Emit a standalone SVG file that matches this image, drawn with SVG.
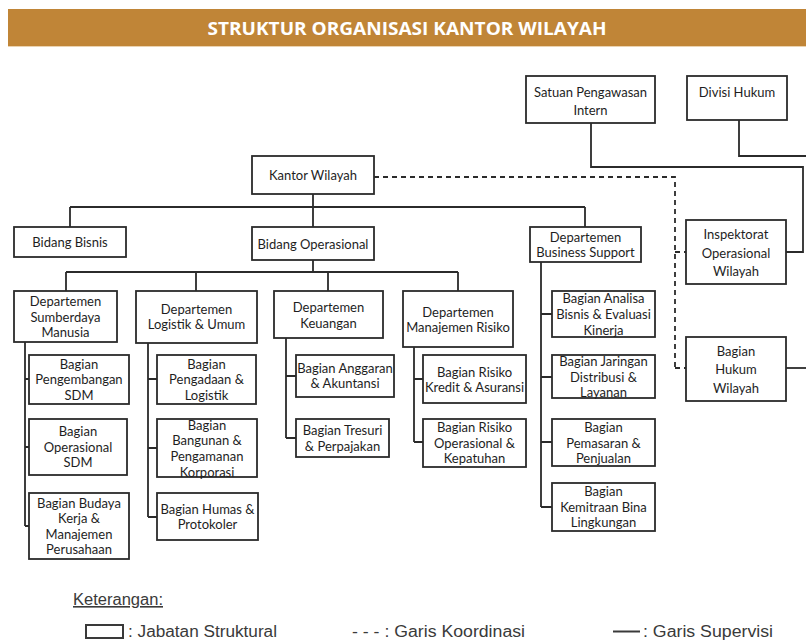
<svg xmlns="http://www.w3.org/2000/svg" width="806" height="643" viewBox="0 0 806 643">
<style>
.box{fill:#fff;stroke:#2b2b2b;stroke-width:1.8}
.t{font-family:Lato,"Open Sans","Liberation Sans",sans-serif;font-size:13px;fill:#1e1e1e;text-anchor:middle}
.ln{stroke:#2b2b2b;stroke-width:1.8;fill:none}
.dash{stroke-dasharray:5 4}
.lg{font-family:"Liberation Sans",Arial,sans-serif;font-size:16px;fill:#3a3a3a}
</style>
<rect x="0" y="0" width="806" height="643" fill="#fff"/>
<g id="title">
<rect x="8" y="9" width="798" height="37" fill="#C08537"/>
<line x1="8" y1="46.5" x2="806" y2="46.5" stroke="#EBD3B0" stroke-width="1"/>
<text x="407" y="35" font-family="'Open Sans','Liberation Sans',sans-serif" font-size="18" font-weight="bold" fill="#fff" text-anchor="middle" textLength="399" lengthAdjust="spacingAndGlyphs">STRUKTUR ORGANISASI KANTOR WILAYAH</text>
</g>
<g id="connectors">
<path class="ln" d="M313 194V207M70 207H585M70 207V227M313 207V227M585 207V227"/>
<path class="ln" d="M313 260V272M66 272H458M66 272V291M196 272V291M328 272V291M458 272V291"/>
<path class="ln" d="M25 342V526M25 379H29M25 447H29M25 526H29"/>
<path class="ln" d="M148 343V517M148 379H157M148 448H157M148 517H157"/>
<path class="ln" d="M286 338V438M286 376H296M286 438H296"/>
<path class="ln" d="M414 347V442M414 379H423M414 442H423"/>
<path class="ln" d="M541 262V507M541 314H552M541 377H552M541 442H552M541 507H552"/>
<path class="ln" d="M591 123V167H803V252H786"/>
<path class="ln" d="M739 120V156H806"/>
<path class="ln" d="M786 368H806"/>
<path class="ln dash" d="M374 177H675V368"/>
<path class="ln dash" d="M675 252H686M675 368H686"/>
</g>
<g id="n-satuan"><rect class="box" x="526" y="76" width="129" height="47"/><text class="t" x="590.5" y="96.5">Satuan Pengawasan</text><text class="t" x="590.5" y="114.5">Intern</text></g>
<g id="n-divisi-hukum"><rect class="box" x="687" y="76" width="100" height="44"/><text class="t" x="737" y="96.5">Divisi Hukum</text></g>
<g id="n-kantor"><rect class="box" x="252" y="156" width="122" height="38"/><text class="t" x="313" y="179.5">Kantor Wilayah</text></g>
<g id="n-bisnis"><rect class="box" x="14" y="227" width="112" height="30"/><text class="t" x="70" y="246.5">Bidang Bisnis</text></g>
<g id="n-operasional"><rect class="box" x="252" y="227" width="122" height="33"/><text class="t" x="313" y="248.5">Bidang Operasional</text></g>
<g id="n-business-support"><rect class="box" x="530" y="227" width="111" height="35"/><text class="t" x="585.5" y="241.5">Departemen</text><text class="t" x="585.5" y="256.5">Business Support</text></g>
<g id="n-inspektorat"><rect class="box" x="686" y="220" width="100" height="64"/><text class="t" x="736" y="238.5">Inspektorat</text><text class="t" x="736" y="257.5">Operasional</text><text class="t" x="736" y="275.5">Wilayah</text></g>
<g id="n-hukum-wilayah"><rect class="box" x="686" y="337" width="100" height="64"/><text class="t" x="736" y="355.5">Bagian</text><text class="t" x="736" y="373.5">Hukum</text><text class="t" x="736" y="392.5">Wilayah</text></g>
<g id="n-sdm"><rect class="box" x="14" y="291" width="103" height="51"/><text class="t" x="65.5" y="305.5">Departemen</text><text class="t" x="65.5" y="321.5">Sumberdaya</text><text class="t" x="65.5" y="336.5">Manusia</text></g>
<g id="n-logistik"><rect class="box" x="136" y="291" width="121" height="52"/><text class="t" x="196.5" y="313.5">Departemen</text><text class="t" x="196.5" y="328.5">Logistik &amp; Umum</text></g>
<g id="n-keuangan"><rect class="box" x="274" y="291" width="109" height="47"/><text class="t" x="328.5" y="311.5">Departemen</text><text class="t" x="328.5" y="327.5">Keuangan</text></g>
<g id="n-risiko"><rect class="box" x="403" y="291" width="110" height="56"/><text class="t" x="458" y="316.5">Departemen</text><text class="t" x="458" y="331.5">Manajemen Risiko</text></g>
<g id="n-analisa"><rect class="box" x="552" y="291" width="103" height="46"/><text class="t" x="603.5" y="302.5">Bagian Analisa</text><text class="t" x="603.5" y="318.5">Bisnis &amp; Evaluasi</text><text class="t" x="603.5" y="334.5">Kinerja</text></g>
<g id="n-pengembangan-sdm"><rect class="box" x="29" y="355" width="100" height="49"/><text class="t" x="79" y="368.5">Bagian</text><text class="t" x="79" y="383.5">Pengembangan</text><text class="t" x="79" y="399.5">SDM</text></g>
<g id="n-operasional-sdm"><rect class="box" x="29" y="419" width="98" height="56"/><text class="t" x="78" y="435.5">Bagian</text><text class="t" x="78" y="451.5">Operasional</text><text class="t" x="78" y="466.5">SDM</text></g>
<g id="n-budaya"><rect class="box" x="29" y="493" width="100" height="66"/><text class="t" x="79" y="507.5">Bagian Budaya</text><text class="t" x="79" y="522.5">Kerja &amp;</text><text class="t" x="79" y="538.5">Manajemen</text><text class="t" x="79" y="553.5">Perusahaan</text></g>
<g id="n-pengadaan"><rect class="box" x="157" y="355" width="99" height="49"/><text class="t" x="206.5" y="368.5">Bagian</text><text class="t" x="206.5" y="383.5">Pengadaan &amp;</text><text class="t" x="206.5" y="399.5">Logistik</text></g>
<g id="n-bangunan"><rect class="box" x="157" y="419" width="100" height="58"/><text class="t" x="207" y="429.5">Bagian</text><text class="t" x="207" y="444.5">Bangunan &amp;</text><text class="t" x="207" y="460.5">Pengamanan</text><text class="t" x="207" y="476.5">Korporasi</text></g>
<g id="n-humas"><rect class="box" x="157" y="493" width="101" height="47"/><text class="t" x="207.5" y="513.5">Bagian Humas &amp;</text><text class="t" x="207.5" y="528.5">Protokoler</text></g>
<g id="n-anggaran"><rect class="box" x="296" y="355" width="98" height="42"/><text class="t" x="345" y="372.5">Bagian Anggaran</text><text class="t" x="345" y="387.5">&amp; Akuntansi</text></g>
<g id="n-tresuri"><rect class="box" x="296" y="419" width="93" height="38"/><text class="t" x="342.5" y="434.5">Bagian Tresuri</text><text class="t" x="342.5" y="450.5">&amp; Perpajakan</text></g>
<g id="n-risiko-kredit"><rect class="box" x="423" y="355" width="103" height="48"/><text class="t" x="474.5" y="376.5">Bagian Risiko</text><text class="t" x="474.5" y="391.5">Kredit &amp; Asuransi</text></g>
<g id="n-risiko-operasional"><rect class="box" x="423" y="419" width="103" height="48"/><text class="t" x="474.5" y="431.5">Bagian Risiko</text><text class="t" x="474.5" y="447.5">Operasional &amp;</text><text class="t" x="474.5" y="462.5">Kepatuhan</text></g>
<g id="n-jaringan"><rect class="box" x="552" y="355" width="103" height="43"/><text class="t" x="603.5" y="365.5">Bagian Jaringan</text><text class="t" x="603.5" y="381.5">Distribusi &amp;</text><text class="t" x="603.5" y="396.5">Layanan</text></g>
<g id="n-pemasaran"><rect class="box" x="552" y="419" width="103" height="47"/><text class="t" x="603.5" y="431.5">Bagian</text><text class="t" x="603.5" y="447.5">Pemasaran &amp;</text><text class="t" x="603.5" y="462.5">Penjualan</text></g>
<g id="n-kemitraan"><rect class="box" x="552" y="483" width="103" height="48"/><text class="t" x="603.5" y="495.5">Bagian</text><text class="t" x="603.5" y="511.5">Kemitraan Bina</text><text class="t" x="603.5" y="526.5">Lingkungan</text></g>
<g id="legend">
<text class="lg" x="73" y="605" text-decoration="underline" textLength="90" lengthAdjust="spacingAndGlyphs">Keterangan:</text>
<rect x="86" y="625" width="37" height="13" fill="#fff" stroke="#3a3a3a" stroke-width="2"/>
<text class="lg" x="128" y="637" textLength="149" lengthAdjust="spacingAndGlyphs">: Jabatan Struktural</text>
<text class="lg" x="352" y="637" textLength="173" lengthAdjust="spacingAndGlyphs">- - - : Garis Koordinasi</text>
<line x1="613" y1="631.5" x2="640" y2="631.5" stroke="#3a3a3a" stroke-width="2"/>
<text class="lg" x="643" y="637" textLength="130" lengthAdjust="spacingAndGlyphs">: Garis Supervisi</text>
</g>
</svg>
